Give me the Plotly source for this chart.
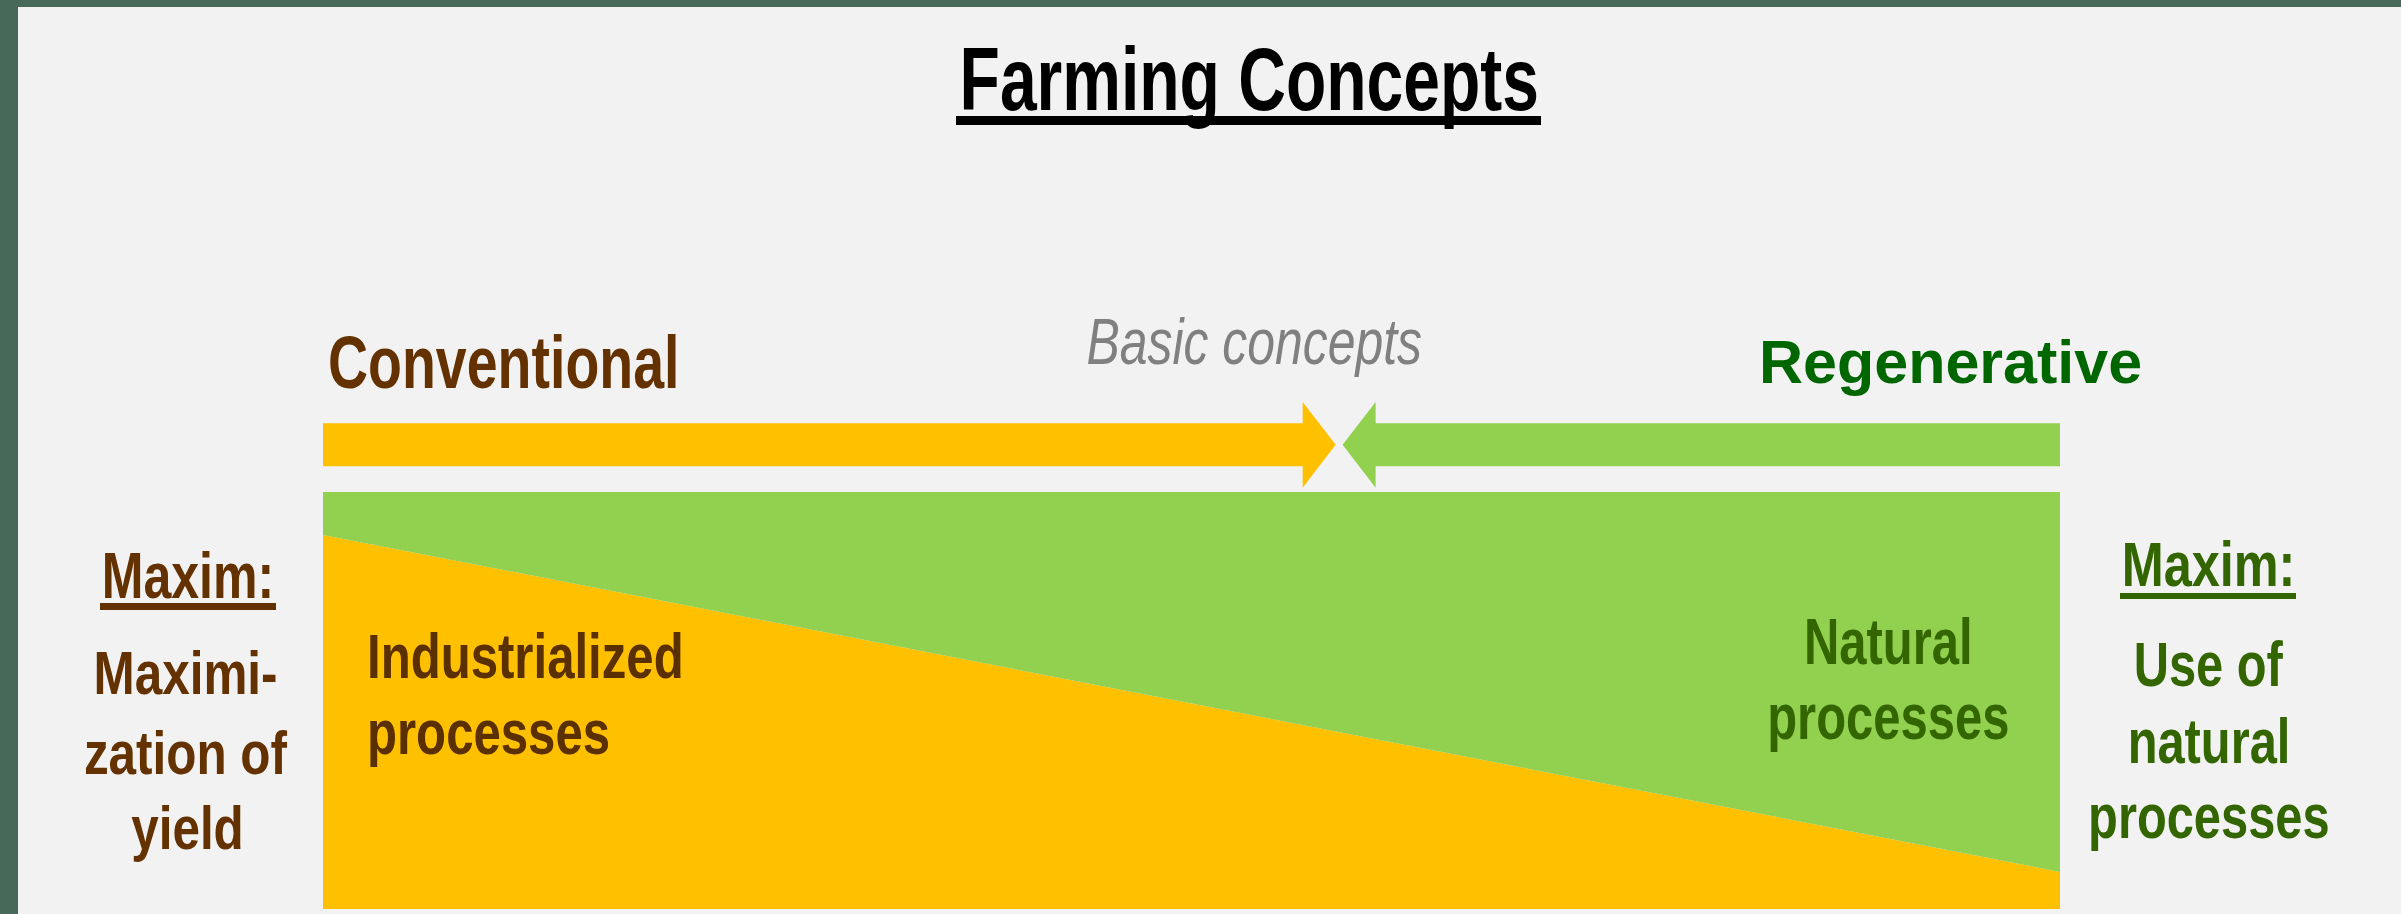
import json
import plotly.graph_objects as go

# ---------------- data ----------------
spectrum_x = [0, 100]                 # Conventional (0) -> Regenerative (100)
industrial_share = [89.7, 8.9]        # % of processes that are industrialized
natural_share = [10.3, 91.1]          # % of processes that are natural
meet_point = 58.5                     # where the two concept arrows meet

title_text = "Farming Concepts"
left_label = "Conventional"
right_label = "Regenerative"
middle_label = "Basic concepts"
industrial_lines = ["Industrialized", "processes"]
natural_lines = ["Natural", "processes"]
left_maxim_lines = ["Maximi-", "zation of", "yield"]
right_maxim_lines = ["Use of", "natural", "processes"]

# ---------------- style ----------------
W, H = 2401, 914
ML, MT = 18, 7
ORANGE = "#ffc000"
GREEN = "#92d050"
BG = "#f2f2f2"
BORDER = "#46695a"
BROWN = "#643200"
DKGREEN = "#336600"
FONT = "Liberation Sans, Arial, sans-serif"

def px(xp):
    return (xp - ML) / (W - ML)

def py(yp):
    return (H - yp) / (H - MT)

fig = go.Figure()

# stacked area: industrial (bottom) + natural (top)
fig.add_trace(go.Scatter(x=spectrum_x, y=industrial_share, stackgroup="one",
                         mode="lines", line=dict(width=0, color=ORANGE),
                         fillcolor=ORANGE, hoverinfo="skip", name="Industrialized"))
fig.add_trace(go.Scatter(x=spectrum_x, y=natural_share, stackgroup="one",
                         mode="lines", line=dict(width=0, color=GREEN),
                         fillcolor=GREEN, hoverinfo="skip", name="Natural"))

# concept arrows
band_lo, band_hi = 106.2, 116.5
head_lo, head_hi = 101.0, 121.6
head_len, gap = 1.9, 0.2
mid = (band_lo + band_hi) / 2
tipL = meet_point - gap
baseL = tipL - head_len
ax = [spectrum_x[0], baseL, baseL, tipL, baseL, baseL, spectrum_x[0], spectrum_x[0]]
ay = [band_lo, band_lo, head_lo, mid, head_hi, band_hi, band_hi, band_lo]
fig.add_trace(go.Scatter(x=ax, y=ay, fill="toself", fillcolor=ORANGE, mode="lines",
                         line=dict(width=0), hoverinfo="skip"))
tipR = meet_point + gap
baseR = tipR + head_len
bx = [spectrum_x[1], baseR, baseR, tipR, baseR, baseR, spectrum_x[1], spectrum_x[1]]
fig.add_trace(go.Scatter(x=bx, y=ay, fill="toself", fillcolor=GREEN, mode="lines",
                         line=dict(width=0), hoverinfo="skip"))

# ---------------- text ----------------
squeeze = []   # (horizontal scale, transform origin) per annotation index

def ann(text, x, y, size, color, sx=1.0, weight="bold", style="normal",
        xanchor="center"):
    fig.add_annotation(text=text, x=px(x), y=py(y), xref="paper", yref="paper",
                       xanchor=xanchor, yanchor="middle", align=xanchor if xanchor != "center" else "center",
                       showarrow=False, borderpad=0,
                       font=dict(family=FONT, size=size, color=color,
                                 weight=weight, style=style))
    squeeze.append((sx, "left center" if xanchor == "left" else "center"))

ann(title_text, 1249, 79, 88, "#000000", sx=0.75)
ann(left_label, 327, 362, 75, BROWN, sx=0.74, xanchor="left")
ann(middle_label, 1254, 342, 64, "#808080", sx=0.78, weight="normal", style="italic")
ann(right_label, 1950, 362, 61, "#006600", sx=1.0)

ann("Maxim:", 188, 575, 65, BROWN, sx=0.77)
for t, yc, xc in zip(left_maxim_lines, [673, 753, 828], [185, 185, 187]):
    ann(t, xc, yc, 61, BROWN, sx=0.81)

for t, yc in zip(industrial_lines, [656, 732]):
    ann(t, 366, yc, 63, "#5a3000", sx=0.78, xanchor="left")

for t, yc in zip(natural_lines, [642, 717]):
    ann(t, 1888, yc, 64, DKGREEN, sx=0.765)

ann("Maxim:", 2208, 564, 63, DKGREEN, sx=0.80)
for t, yc in zip(right_maxim_lines, [664, 741, 816]):
    ann(t, 2209, yc, 63, DKGREEN, sx=0.775)

# underlines
for (x0, x1, yc, w, c) in [(956, 1541, 120.5, 9, "#000000"),
                           (100, 276, 606.5, 7, BROWN),
                           (2120, 2296, 596, 6, DKGREEN)]:
    fig.add_shape(type="line", xref="paper", yref="paper",
                  x0=px(x0), x1=px(x1), y0=py(yc), y1=py(yc),
                  line=dict(color=c, width=w))

# ---------------- layout ----------------
xs = 17.37   # px per unit in x
ys = 4.17    # px per unit in y
fig.update_layout(
    width=W, height=H,
    margin=dict(l=ML, r=0, t=MT, b=0, pad=0),
    paper_bgcolor=BORDER, plot_bgcolor=BG,
    showlegend=False,
    xaxis=dict(range=[(ML - 323) / xs, (W - 323) / xs], visible=False, fixedrange=True),
    yaxis=dict(range=[(909 - H) / ys, (909 - MT) / ys], visible=False, fixedrange=True),
)

# condensed lettering (narrow typeface look) via a horizontal squeeze of the real text
css = "html,body{margin:0;padding:0;}" + "".join(
    '.annotation[data-index="%d"] text.annotation-text{transform-box:fill-box;'
    'transform-origin:%s;transform:scaleX(%.3f);}' % (i, o, s)
    for i, (s, o) in enumerate(squeeze)
)
post = ("var st=document.createElement('style');st.textContent=%s;"
        "document.head.appendChild(st);" % json.dumps(css))

fig.write_html("out.html", post_script=post,
               config={"displayModeBar": False, "staticPlot": True})
